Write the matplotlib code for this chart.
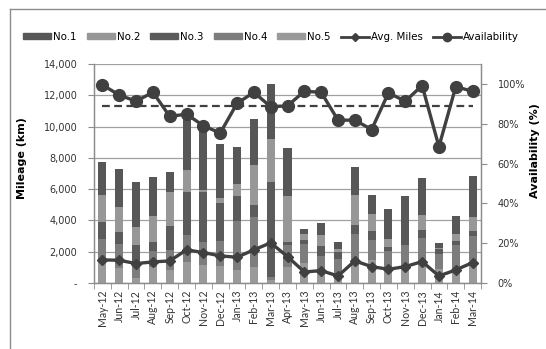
import numpy as np
import matplotlib
matplotlib.use("Agg")
import matplotlib.pyplot as plt
from matplotlib.ticker import FuncFormatter
from matplotlib.lines import Line2D
from matplotlib.patches import Patch

months = ["May-12", "Jun-12", "Jul-12", "Aug-12", "Sep-12", "Oct-12", "Nov-12", "Dec-12",
          "Jan-13", "Feb-13", "Mar-13", "Apr-13", "May-13", "Jun-13", "Jul-13", "Aug-13",
          "Sep-13", "Oct-13", "Nov-13", "Dec-13", "Jan-14", "Feb-14", "Mar-14"]

# monthly mileage per vehicle (km)
no1 = [2141, 2482, 2910, 2526, 1283, 3531, 3903, 3424, 2375, 2932, 3572, 3060,
       342, 813, 449, 1776, 1220, 1883, 3123, 2418, 277, 1155, 2654]
no2 = [1733, 1563, 1112, 1626, 2204, 1456, 100, 321, 749, 2569, 2719, 2995,
       364, 642, 215, 1926, 1070, 492, 0, 920, 100, 429, 856]
no3 = [1048, 770, 1177, 578, 1498, 2760, 3230, 2461, 1647, 770, 6055, 150,
       257, 664, 427, 578, 577, 279, 0, 535, 300, 256, 363]
no4 = [1325, 1562, 963, 1054, 1300, 1669, 1434, 1541, 3138, 3194, 200, 1440,
       1241, 1112, 1100, 1669, 1284, 1254, 1440, 1668, 1000, 1605, 1500]
no5 = [1500, 942, 300, 1000, 819, 1370, 1156, 1113, 800, 1000, 207, 1000,
       1263, 621, 441, 1477, 1477, 800, 1000, 1200, 869, 835, 1475]

avg_miles = [1477, 1455, 1241, 1348, 1412, 2119, 1947, 1733, 1648, 2119, 2568, 1690,
             706, 792, 449, 1412, 1048, 878, 1048, 1369, 449, 835, 1305]

# availability in percent
availability = [99.5, 94.4, 91.3, 95.8, 83.7, 84.8, 79.0, 75.3, 90.2, 95.8, 88.5, 89.0,
                96.3, 95.8, 81.8, 81.8, 77.1, 95.5, 91.3, 99.2, 68.5, 98.6, 96.3]
avail_target = 88.7

series = {"No.1": no1, "No.2": no2, "No.3": no3, "No.4": no4, "No.5": no5}
colors = {"No.1": "#575757", "No.2": "#979797", "No.3": "#5b5b5b",
          "No.4": "#7d7d7d", "No.5": "#9a9a9a"}
line_col = "#404040"
axis_col = "#8c8c8c"

plt.rcParams["font.family"] = "DejaVu Sans"

fig = plt.figure(figsize=(5.46, 3.49), dpi=100)
ax = fig.add_axes([94 / 546, 1 - 283 / 349, 387 / 546, 219 / 349])
ax2 = ax.twinx()

x = np.arange(len(months))

# stacked columns, No.5 at the bottom
bottom = np.zeros(len(months))
for name in ["No.5", "No.4", "No.3", "No.2", "No.1"]:
    vals = np.array(series[name], dtype=float)
    ax.bar(x, vals, 0.48, bottom=bottom, color=colors[name], zorder=2, linewidth=0)
    bottom += vals

ax.plot(x, avg_miles, color=line_col, lw=2.4, marker="D", ms=5.5, zorder=4)

ax2.plot(x, [avail_target] * len(months), color=line_col, lw=1.6, ls=(0, (3.5, 2)))
ax2.plot(x, availability, color=line_col, lw=2.4, marker="o", ms=8.5)

# axes limits and ticks
ax.set_xlim(-0.5, len(months) - 0.5)
ax.set_ylim(0, 14000)
ax.set_yticks(np.arange(0, 14001, 2000))
ax.yaxis.set_major_formatter(FuncFormatter(lambda v, p: "-" if v == 0 else f"{int(v):,}"))
ax2.set_ylim(0, 110)
ax2.set_yticks(np.arange(0, 101, 20))
ax2.yaxis.set_major_formatter(FuncFormatter(lambda v, p: f"{int(v)}%"))

ax.set_xticks(x)
ax.set_xticklabels(months, rotation=90, fontsize=7.6, color="#333333", family="Lato")
ax.set_xticks(np.arange(-0.5, len(months), 1), minor=True)
ax.tick_params(axis="x", which="major", length=0, pad=5)
ax.tick_params(axis="x", which="minor", length=4, color=axis_col, direction="out")
ax.tick_params(axis="y", length=4, color=axis_col, labelsize=7, labelcolor="#333333", pad=8)
ax2.tick_params(axis="y", length=4, color=axis_col, labelsize=7, labelcolor="#333333", pad=8)

ax.grid(axis="y", color="#a0a0a0", lw=0.9, zorder=0)
ax.set_axisbelow(True)
for a in (ax, ax2):
    a.spines["top"].set_visible(False)
    for s in ("left", "right", "bottom"):
        a.spines[s].set_color(axis_col)
        a.spines[s].set_linewidth(0.9)

ax.set_ylabel("Mileage (km)", fontsize=8, fontweight="bold")
ax2.set_ylabel("Availability (%)", fontsize=8, fontweight="bold")
ax.yaxis.set_label_coords(-0.172, 0.57)
ax2.yaxis.set_label_coords(1.126, 0.605)

# legend across the top
handles = [Patch(color=colors[n]) for n in series]
handles += [Line2D([], [], color=line_col, lw=2, marker="D", ms=4),
            Line2D([], [], color=line_col, lw=2, marker="o", ms=6)]
labels = list(series) + ["Avg. Miles", "Availability"]
fig.legend(handles, labels, loc="center", bbox_to_anchor=(271 / 546, 1 - 37 / 349),
           ncol=7, frameon=False, fontsize=7.4, handlelength=2.7, handleheight=0.55,
           handletextpad=0.2, columnspacing=1.0, borderpad=0)

# chart area outline
fig.add_artist(Line2D([10 / 546, 10 / 546], [0, 1 - 9 / 349], color=axis_col, lw=1,
                      transform=fig.transFigure))
fig.add_artist(Line2D([10 / 546, 1], [1 - 9 / 349, 1 - 9 / 349], color=axis_col, lw=1,
                      transform=fig.transFigure))

fig.savefig("out.png", dpi=100)
